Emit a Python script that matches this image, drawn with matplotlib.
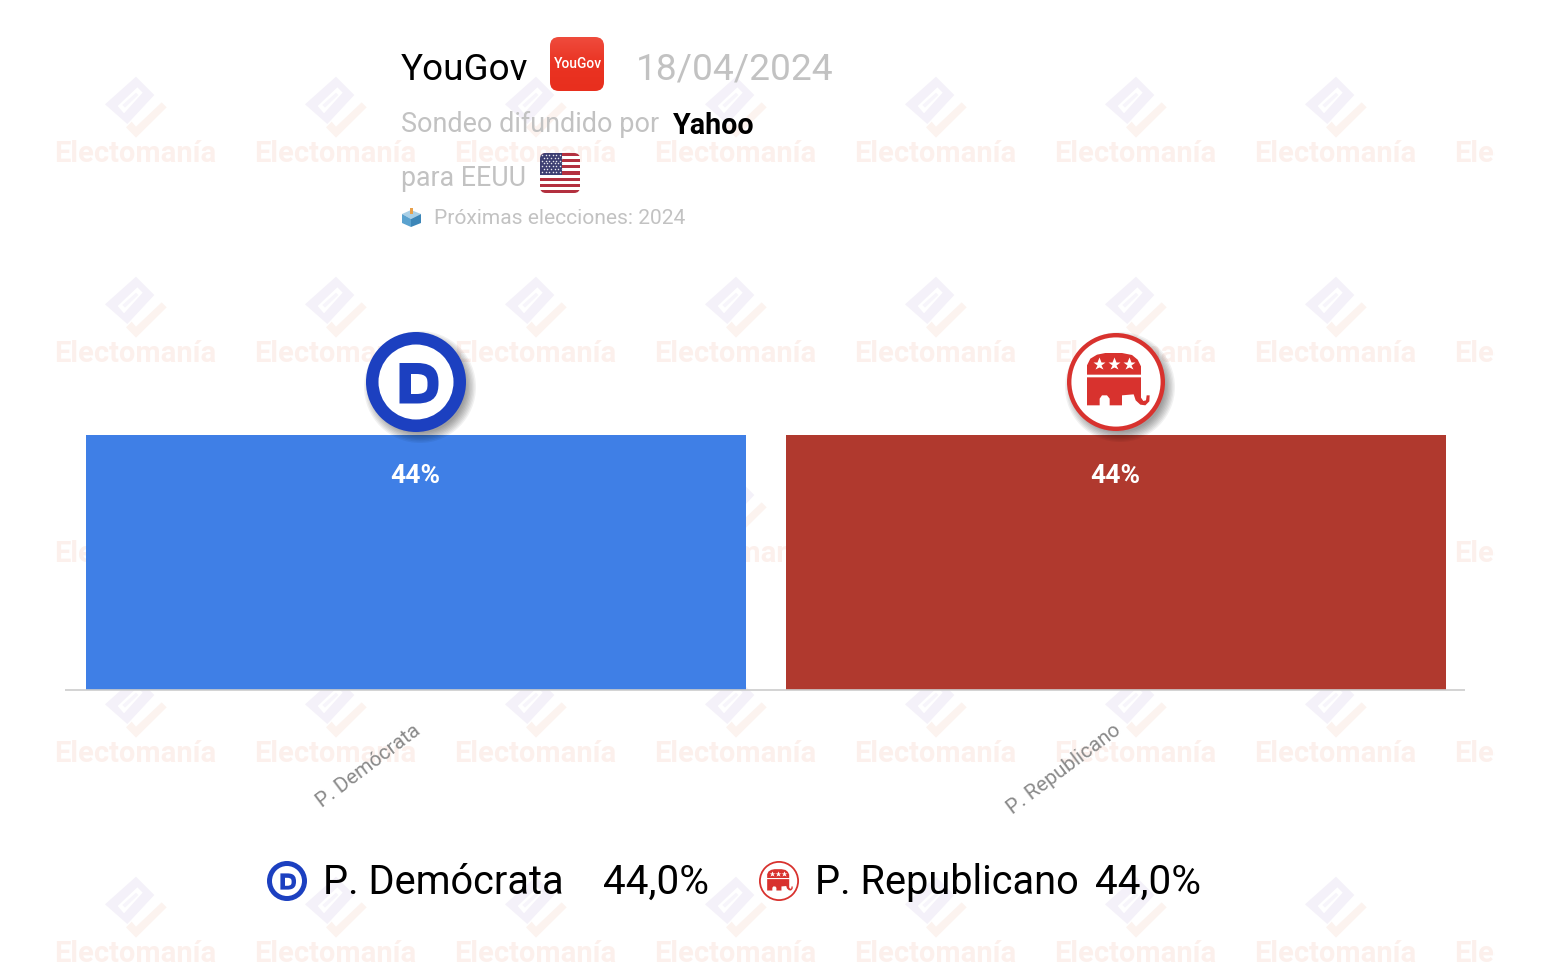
#Sondeo YouGov / Yahoo para EEUU, 18/04/2024
import matplotlib
matplotlib.use('Agg')
import matplotlib.pyplot as plt
import numpy as np
from matplotlib.patches import Circle, FancyBboxPatch, PathPatch, Polygon, Rectangle
from matplotlib.path import Path

plt.rcParams['font.family'] = ['Roboto', 'DejaVu Sans']

W = 1552
H = 964

partidos = ['P. Demócrata', 'P. Republicano']
valores = [44.0, 44.0]
colores = ['#3f7fe6', '#b0392e']

encuestadora = 'YouGov'
fecha = '18/04/2024'
medio = 'Yahoo'
proximas = 'Próximas elecciones: 2024'

AZUL = '#1c40c0'
ROJO = '#d8322e'


def poly(ax, pts, color, z, cx=0, cy=0, k=1.0):
	pts = [(cx + p[0] * k, cy + p[1] * k) for p in pts]
	ax.add_patch(Polygon(pts, closed=True, fc=color, ec='none', zorder=z))


def marca_agua(ax):
	# zoom coords of the logo converted to offsets from the tile centre
	def z(pts):
		return [(a / 3 - 86, b / 3 - 38) for a, b in pts]
	rombo = z([(258, 20), (313, 75), (232, 162), (165, 103)])
	hueco = z([(262, 52), (278, 68), (222, 130), (203, 108)])
	barra = z([(258, 68), (265, 75), (225, 113), (217, 105)])
	check = z([(335, 97), (350, 112), (258, 203), (228, 172), (245, 155), (258, 170)])
	for ty in range(0, 5):
		for tx in range(0, 8):
			cx = 136 + 200 * tx
			cy = 108 + 200 * ty
			poly(ax, rombo, '#f4f1f9', 1, cx, cy)
			poly(ax, hueco, 'white', 1.1, cx, cy)
			poly(ax, barra, '#f7f5fb', 1.2, cx, cy)
			poly(ax, check, '#fcf3ef', 1, cx, cy)
			t = ax.text(cx - 1, cy + 46, 'Electomanía', fontsize=21, fontweight='bold',
				color='#fcf0ec', ha='center', va='center', zorder=1)
			t.set_clip_on(True)


def sombra(ax, cx, cy, r):
	for i in range(8):
		ax.add_patch(Circle((cx + 4, cy + 5), r + 6 - i * 1.4, fc='black', ec='none', alpha=0.055, zorder=5))


def letra_d(cx, cy, r):
	x0, x1, y0, y1 = -0.33, 0.45, -0.38, 0.43
	a0, a1, b0, b1 = -0.10, 0.23, -0.16, 0.24
	xm = 0.02
	am = 0.0
	ym = (y0 + y1) / 2
	bm = (b0 + b1) / 2
	v1 = [(x0, y0), (xm, y0), (x1 - 0.05, y0), (x1, ym - 0.2), (x1, ym), (x1, ym + 0.2), (x1 - 0.05, y1),
		(xm, y1), (x0, y1), (x0, y0)]
	c1 = [Path.MOVETO, Path.LINETO, Path.CURVE4, Path.CURVE4, Path.CURVE4, Path.CURVE4, Path.CURVE4,
		Path.CURVE4, Path.LINETO, Path.CLOSEPOLY]
	v2 = [(a0, b0), (a0, b1), (am, b1), (a1, b1), (a1, bm + 0.1), (a1, bm), (a1, bm - 0.1), (a1, b0),
		(am, b0), (a0, b0)]
	c2 = [Path.MOVETO, Path.LINETO, Path.LINETO, Path.CURVE4, Path.CURVE4, Path.CURVE4, Path.CURVE4,
		Path.CURVE4, Path.CURVE4, Path.CLOSEPOLY]
	pts = [(cx + p[0] * r, cy + p[1] * r) for p in v1 + v2]
	return Path(pts, c1 + c2)


def logo_dem(ax, cx, cy, r, z=6):
	ax.add_patch(Circle((cx, cy), r, fc=AZUL, ec='none', zorder=z))
	ax.add_patch(Circle((cx, cy), r * 0.75, fc='white', ec='none', zorder=z + 0.1))
	ax.add_patch(PathPatch(letra_d(cx, cy, r), fc=AZUL, ec='none', zorder=z + 0.2))


def logo_rep(ax, cx, cy, r, z=6):
	ax.add_patch(Circle((cx, cy), r, fc=ROJO, ec='none', zorder=z))
	ax.add_patch(Circle((cx, cy), r * 0.91, fc='white', ec='none', zorder=z + 0.1))
	k = r / 147.0
	def e(pts):
		return [(a - 197, b - 185) for a, b in pts]
	lomo = e([(110, 163), (110, 135), (120, 115), (140, 103), (165, 98), (215, 98), (245, 104),
		(262, 118), (272, 138), (272, 163)])
	cuerpo = e([(110, 171), (272, 171), (272, 232), (279, 242), (287, 240), (289, 225), (298, 225),
		(297, 243), (285, 255), (270, 253), (256, 240), (250, 222), (215, 225), (215, 255), (178, 255),
		(178, 235), (170, 225), (155, 225), (148, 235), (148, 255), (110, 255)])
	poly(ax, lomo, ROJO, z + 0.2, cx, cy, k)
	poly(ax, cuerpo, ROJO, z + 0.2, cx, cy, k)
	for sx in [145, 190, 236]:
		ax.plot(cx + (sx - 197) * k, cy + (131 - 185) * k, marker='*', ms=29 * k, mfc='white',
			mec='none', zorder=z + 0.3)


def logo_yougov(ax):
	caja = FancyBboxPatch((558, 45), 38, 38, boxstyle='round,pad=8,rounding_size=9', fc='none', ec='none',
		transform=ax.transData, zorder=3)
	ax.add_patch(caja)
	grad = np.linspace(0, 1, 64).reshape(-1, 1)
	cmap = matplotlib.colors.LinearSegmentedColormap.from_list('yg', ['#ef4b3c', '#ea3322', '#e82f1e'])
	im = ax.imshow(grad, extent=(550, 604, 91, 37), cmap=cmap, aspect='auto', zorder=3)
	im.set_clip_path(caja)
	ax.text(577.5, 64, 'YouGov', color='white', fontsize=10, fontweight='medium', ha='center', va='center', zorder=4)


def bandera(ax):
	caja = FancyBboxPatch((545, 158), 30, 30, boxstyle='round,pad=5,rounding_size=6', fc='none', ec='none', zorder=3)
	ax.add_patch(caja)
	alto = 40 / 13
	for i in range(13):
		col = '#b3303f' if i % 2 == 0 else 'white'
		r = Rectangle((540, 153 + i * alto), 40, alto + 0.2, fc=col, ec='none', zorder=3)
		ax.add_patch(r)
		r.set_clip_path(caja)
	r = Rectangle((540, 153), 22, 7 * alto, fc='#3d3f72', ec='none', zorder=3.1)
	ax.add_patch(r)
	r.set_clip_path(caja)
	xs = []
	ys = []
	for i in range(7):
		for j in range(6):
			xs.append(542 + j * 3.6 + (1.8 if i % 2 else 0))
			ys.append(155 + i * 2.8)
	l, = ax.plot(xs, ys, ls='none', marker='o', ms=1.1, mfc='#e8e8f0', mec='none', zorder=3.2)
	l.set_clip_path(caja)


def urna(ax):
	poly(ax, [(410, 208), (413, 208), (413, 214), (410, 214)], '#e8a04a', 3.2)
	poly(ax, [(402, 214), (411, 210), (421, 214), (411, 219)], '#a9cfe6', 3)
	poly(ax, [(402, 214), (411, 219), (411, 227), (402, 223)], '#5aa2cf', 3)
	poly(ax, [(411, 219), (421, 214), (421, 223), (411, 227)], '#3c86b8', 3)


def main():
	fig = plt.figure(figsize=(W / 100, H / 100), dpi=100, facecolor='white')

	# fondo: marca de agua, cortada en x=1495
	fondo = fig.add_axes([0, 0, 1495 / W, 1], zorder=0)
	fondo.set_xlim(0, 1495)
	fondo.set_ylim(H, 0)
	fondo.axis('off')
	marca_agua(fondo)

	# barras: escala 0-44 entre y=689 e y=435, bandas de 700 px desde x=65
	ax = fig.add_axes([65 / W, 1 - 689.5 / H, 1400 / W, 254.5 / H], zorder=1)
	ax.patch.set_alpha(0)
	x = np.arange(len(partidos))
	bars = ax.bar(x, valores, width=660 / 700, color=colores)
	ax.set_xlim(-0.5 - 1 / 700, len(partidos) - 0.5 - 1 / 700)
	ax.set_ylim(0, max(valores))
	ax.set_yticks([])
	for s in ['top', 'left', 'right']:
		ax.spines[s].set_visible(False)
	ax.spines['bottom'].set_color('#cccccc')
	ax.spines['bottom'].set_linewidth(1.2)
	ax.spines['bottom'].set_capstyle('butt')
	ax.set_xticks(x)
	ax.set_xticklabels([])
	ax.tick_params(axis='x', length=0)
	for b, v in zip(bars, valores):
		ax.text(b.get_x() + b.get_width() / 2 - 0.0015, v - 7.15, f'{v:.0f}%', color='white', fontsize=19,
			fontweight='bold', ha='center', va='center')
	for i, p in enumerate(partidos):
		ax.annotate(p, (i, 0), xytext=(-2.5, -22.5), textcoords='offset points', fontsize=14.9, color='#8a8a8a',
			rotation=37, ha='right', va='top', rotation_mode='anchor', annotation_clip=False)

	# capa de texto y logos en pixeles
	top = fig.add_axes([0, 0, 1, 1], zorder=2)
	top.patch.set_alpha(0)
	top.axis('off')

	top.text(401, 70, encuestadora, fontsize=26.5, color='black', va='center', ha='left')
	logo_yougov(top)
	top.text(636, 70, fecha, fontsize=26.7, color='#c2c2c2', va='center', ha='left')
	top.text(401, 124, 'Sondeo difundido por', fontsize=19.45, color='#c2c2c2', va='center', ha='left')
	top.text(673, 126, medio, fontsize=20.6, fontweight='bold', color='black', va='center', ha='left')
	top.text(401, 179, 'para EEUU', fontsize=19.3, color='#c2c2c2', va='center', ha='left')
	bandera(top)
	urna(top)
	top.text(434, 219, proximas, fontsize=15.1, color='#c2c2c2', va='center', ha='left')

	sombra(top, 416, 382, 50)
	logo_dem(top, 416, 382, 50)
	sombra(top, 1116, 382, 49)
	logo_rep(top, 1116, 382, 49)

	# leyenda
	logo_dem(top, 287, 881, 20)
	logo_rep(top, 779, 881, 20)
	ley_x = [323, 815]
	val_x = [708.5, 1200.5]
	for i in range(len(partidos)):
		top.text(ley_x[i], 882, partidos[i], fontsize=28.6, color='black', va='center', ha='left')
		etiqueta = f'{valores[i]:.1f}'.replace('.', ',') + '%'
		top.text(val_x[i], 882, etiqueta, fontsize=29.2, color='black', va='center', ha='right')

	top.set_xlim(0, W)
	top.set_ylim(H, 0)

	fig.savefig('out.png', dpi=100)


if __name__ == "__main__":
	main()
